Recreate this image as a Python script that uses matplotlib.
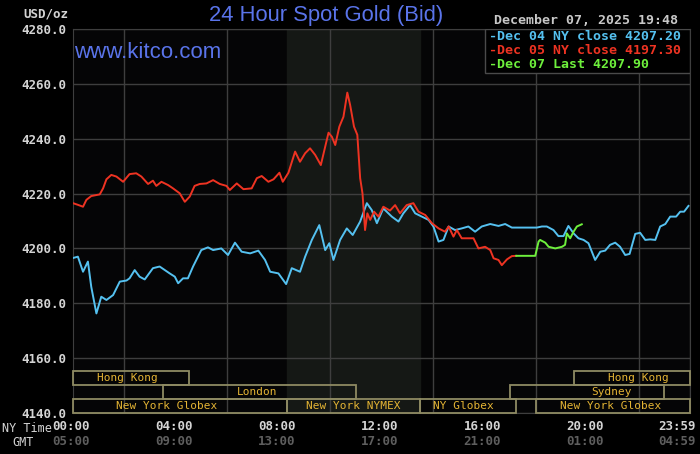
import matplotlib
matplotlib.use('Agg')
import matplotlib.pyplot as plt
import matplotlib.transforms as mtransforms
from matplotlib.patches import Rectangle

# hours (NY time) and USD/oz prices
dec04_hours = [0.00, 0.19, 0.39, 0.58, 0.71, 0.91, 1.10, 1.30, 1.56, 1.82, 2.08, 2.20,
               2.40, 2.59, 2.79, 3.11, 3.37, 3.76, 3.96, 4.09, 4.28, 4.47, 4.67, 4.99,
               5.25, 5.45, 5.77, 6.03, 6.30, 6.56, 6.89, 7.21, 7.47, 7.67, 7.99, 8.29,
               8.51, 8.83, 9.03, 9.29, 9.58, 9.81, 9.97, 10.13, 10.39, 10.65, 10.88, 11.17,
               11.43, 11.62, 11.82, 12.07, 12.40, 12.66, 12.85, 13.11, 13.31, 13.57, 13.83, 14.02,
               14.22, 14.41, 14.61, 14.86, 15.12, 15.38, 15.64, 15.90, 16.23, 16.55, 16.81, 17.07,
               17.59, 18.04, 18.24, 18.43, 18.69, 18.88, 19.08, 19.27, 19.47, 19.66, 19.86, 20.05,
               20.31, 20.51, 20.70, 20.89, 21.09, 21.28, 21.48, 21.65, 21.87, 22.06, 22.26, 22.45,
               22.65, 22.84, 23.04, 23.23, 23.46, 23.62, 23.77, 23.94]
dec04_price = [4196.5, 4197.0, 4191.5, 4195.2, 4186.0, 4176.3, 4182.4, 4181.2, 4183.0, 4187.9, 4188.3, 4189.1,
               4192.1, 4189.7, 4188.7, 4192.8, 4193.4, 4190.9, 4189.7, 4187.3, 4189.1, 4189.1, 4193.4, 4199.4,
               4200.4, 4199.4, 4200.0, 4197.6, 4202.1, 4198.8, 4198.2, 4199.2, 4195.8, 4191.5, 4190.9, 4187.0,
               4192.8, 4191.5, 4197.0, 4203.1, 4208.5, 4199.4, 4201.9, 4195.8, 4203.1, 4207.3, 4204.9, 4209.8,
               4216.5, 4214.0, 4209.2, 4214.6, 4211.6, 4209.8, 4212.8, 4215.8, 4212.8, 4211.6, 4210.4, 4208.0,
               4202.5, 4203.1, 4208.0, 4206.7, 4207.3, 4208.0, 4206.1, 4208.0, 4208.9, 4208.2, 4208.9, 4207.6,
               4207.6, 4207.6, 4208.0, 4208.0, 4206.7, 4204.5, 4204.5, 4208.2, 4205.5, 4203.7, 4203.1, 4201.9,
               4195.8, 4198.8, 4199.2, 4201.3, 4202.1, 4200.6, 4197.6, 4198.0, 4205.3, 4205.7, 4203.1, 4203.3,
               4203.1, 4208.0, 4208.9, 4211.6, 4211.6, 4213.4, 4213.4, 4215.5]

dec05_hours = [0.00, 0.19, 0.39, 0.52, 0.71, 1.04, 1.17, 1.30, 1.49, 1.69, 1.95, 2.20,
               2.46, 2.66, 2.92, 3.11, 3.24, 3.44, 3.70, 3.89, 4.15, 4.35, 4.54, 4.73,
               4.93, 5.19, 5.45, 5.71, 5.97, 6.10, 6.37, 6.63, 6.95, 7.15, 7.34, 7.60,
               7.80, 8.03, 8.16, 8.38, 8.64, 8.83, 9.03, 9.22, 9.42, 9.64, 9.81, 9.94,
               10.07, 10.20, 10.36, 10.52, 10.67, 10.78, 10.93, 11.06, 11.17, 11.26, 11.36, 11.45,
               11.56, 11.71, 11.88, 12.07, 12.33, 12.53, 12.72, 12.98, 13.24, 13.44, 13.70, 13.96,
               14.22, 14.47, 14.61, 14.80, 14.93, 15.12, 15.38, 15.58, 15.77, 16.03, 16.23, 16.36,
               16.55, 16.68, 16.88, 17.07, 17.24]
dec05_price = [4216.5, 4215.9, 4215.2, 4217.7, 4219.1, 4219.7, 4221.9, 4225.2, 4226.8, 4226.2, 4224.3, 4227.1,
               4227.4, 4226.2, 4223.5, 4224.7, 4222.8, 4224.3, 4223.1, 4221.9, 4220.1, 4217.0, 4218.9, 4222.8,
               4223.5, 4223.7, 4224.9, 4223.5, 4222.8, 4221.3, 4223.7, 4221.6, 4221.9, 4225.6, 4226.4, 4224.3,
               4225.2, 4227.6, 4224.3, 4227.6, 4235.3, 4231.6, 4234.7, 4236.5, 4234.1, 4230.4, 4237.1, 4242.2,
               4240.7, 4237.7, 4244.4, 4248.0, 4256.8, 4252.3, 4244.4, 4241.4, 4225.6, 4220.1, 4206.7, 4212.8,
               4210.4, 4213.4, 4211.6, 4215.2, 4213.8, 4215.8, 4212.8, 4215.8, 4216.5, 4213.4, 4212.2, 4209.2,
               4207.3, 4206.1, 4208.0, 4204.3, 4206.7, 4203.7, 4203.7, 4203.7, 4200.0, 4200.6, 4199.4, 4196.4,
               4195.8, 4193.9, 4196.0, 4197.2, 4197.3]

dec07_hours = [17.24, 17.98, 18.11, 18.17, 18.37, 18.50, 18.76, 19.02, 19.14, 19.21, 19.34, 19.47, 19.60, 19.79]
dec07_price = [4197.3, 4197.3, 4202.5, 4203.1, 4202.1, 4200.6, 4200.0, 4200.6, 4201.3, 4205.5, 4203.7, 4206.1, 4208.0, 4208.8]

legend_lines = ['-Dec 04 NY close 4207.20', '-Dec 05 NY close 4197.30', '-Dec 07 Last 4207.90']

tick_hours = [0, 4, 8, 12, 16, 20, 23.983]
ny_labels = ['00:00', '04:00', '08:00', '12:00', '16:00', '20:00', '23:59']
gmt_labels = ['05:00', '09:00', '13:00', '17:00', '21:00', '01:00', '04:59']

# name, start hour, end hour, row (0 = top), label hour
sessions = [
    ('Hong Kong', 0.0, 4.5, 0, 2.1),
    ('Hong Kong', 19.5, 24.0, 0, 22.0),
    ('London', 3.5, 11.0, 1, 7.16),
    ('Sydney', 17.0, 23.0, 1, 20.93),
    ('New York Globex', 0.0, 8.33, 2, 3.64),
    ('New York NYMEX', 8.33, 13.5, 2, 10.89),
    ('NY Globex', 13.5, 17.25, 2, 15.17),
    ('New York Globex', 18.0, 24.0, 2, 20.9),
]
nymex_open, nymex_close = 8.33, 13.5

BLUE = '#55c1f0'
RED = '#ee3322'
GREEN = '#6ef03c'
MONO = 'DejaVu Sans Mono'

W, H = 700, 454
fig = plt.figure(figsize=(7, 4.54), dpi=100, facecolor='black')
ax = fig.add_axes([73 / W, 1 - 413 / H, 617 / W, 384 / H])
ax.set_facecolor('#050506')


def fpos(x, y):
    return x / W, 1 - y / H


def shift(label, px):
    label.set_transform(label.get_transform() +
                        mtransforms.ScaledTranslation(px / 100, 0, fig.dpi_scale_trans))


ax.axvspan(nymex_open, nymex_close, color='#151815', zorder=0)

ax.set_xlim(0, 24)
ax.set_ylim(4140, 4280)
ax.set_yticks(range(4140, 4281, 20))
ax.set_yticklabels(['%.1f' % v for v in range(4140, 4281, 20)])
ax.set_xticks(range(0, 25, 2), minor=True)
ax.set_xticks(tick_hours)
ax.set_xticklabels(ny_labels)
ax.grid(True, which='minor', axis='x', color='#3e3e3e', lw=1.0, zorder=1)
ax.grid(True, which='major', axis='y', color='#3e3e3e', lw=1.0, zorder=1)
ax.tick_params(which='both', length=0)
ax.tick_params(axis='y', pad=5, labelcolor='#d4d4d4', labelsize=9)
ax.tick_params(axis='x', pad=5, labelcolor='#d4d4d4', labelsize=9)
for lab in ax.get_xticklabels() + ax.get_yticklabels():
    lab.set_family(MONO)
    lab.set_weight('bold')
for sp in ax.spines.values():
    sp.set_color('#3e3e3e')

gmt = ax.secondary_xaxis('bottom')
gmt.set_xticks(tick_hours)
gmt.set_xticklabels(gmt_labels)
gmt.tick_params(length=0, pad=16, labelcolor='#5e5e5e', labelsize=9)
for lab in gmt.get_xticklabels():
    lab.set_family(MONO)
    lab.set_weight('bold')
gmt.spines['bottom'].set_visible(False)

for labels in (ax.get_xticklabels(), gmt.get_xticklabels()):
    for lab in labels[:-1]:
        shift(lab, -2)
    shift(labels[-1], -13)

ax.plot(dec04_hours, dec04_price, color=BLUE, lw=1.4, zorder=4)
ax.plot(dec05_hours, dec05_price, color=RED, lw=1.4, zorder=5)
ax.plot(dec07_hours, dec07_price, color=GREEN, lw=1.4, zorder=6)

# trading session boxes along the bottom
trans = mtransforms.blended_transform_factory(ax.transData, ax.transAxes)
row_h = 14 / 384
for name, start, end, row, text_at in sessions:
    y0 = (2 - row) * row_h
    ax.add_patch(Rectangle((start, y0), end - start, row_h, transform=trans,
                           fill=False, edgecolor='#8e8a62', lw=1.3, zorder=7, clip_on=False))
    ax.text(text_at, y0 + row_h / 2, name, transform=trans, ha='center', va='center',
            color='#e4b434', family=MONO, fontsize=8, zorder=8)

# legend box, top right
ax.add_patch(Rectangle(fpos(485, 73), 205 / W, 44 / H, transform=fig.transFigure,
                       facecolor='black', edgecolor='#4a4a4a', lw=1.0, zorder=9))
for i, (txt, c) in enumerate(zip(legend_lines, [BLUE, RED, GREEN])):
    fig.text(*fpos(489, 36 + 14 * i), txt, color=c, family=MONO, weight='bold',
             fontsize=9.5, va='center', ha='left', zorder=10)

fig.text(*fpos(209, 16), '24 Hour Spot Gold (Bid)', color='#5a74ea', family='Liberation Sans',
         fontsize=15.8, va='center', ha='left')
fig.text(*fpos(74, 53), 'www.kitco.com', color='#5a74ea', family='Liberation Sans',
         fontsize=16, va='center', ha='left')
fig.text(*fpos(68, 14), 'USD/oz', color='#d4d4d4', family=MONO, weight='bold',
         fontsize=9, va='center', ha='right')
fig.text(*fpos(678, 20), 'December 07, 2025 19:48', color='#c8c8c8', family=MONO, weight='bold',
         fontsize=9.5, va='center', ha='right')
fig.text(*fpos(2, 428), 'NY Time', color='#d4d4d4', family=MONO, fontsize=8.5, va='center', ha='left')
fig.text(*fpos(12, 442), 'GMT', color='#d4d4d4', family=MONO, fontsize=8.5, va='center', ha='left')

fig.savefig('out.png', dpi=100, facecolor='black')
